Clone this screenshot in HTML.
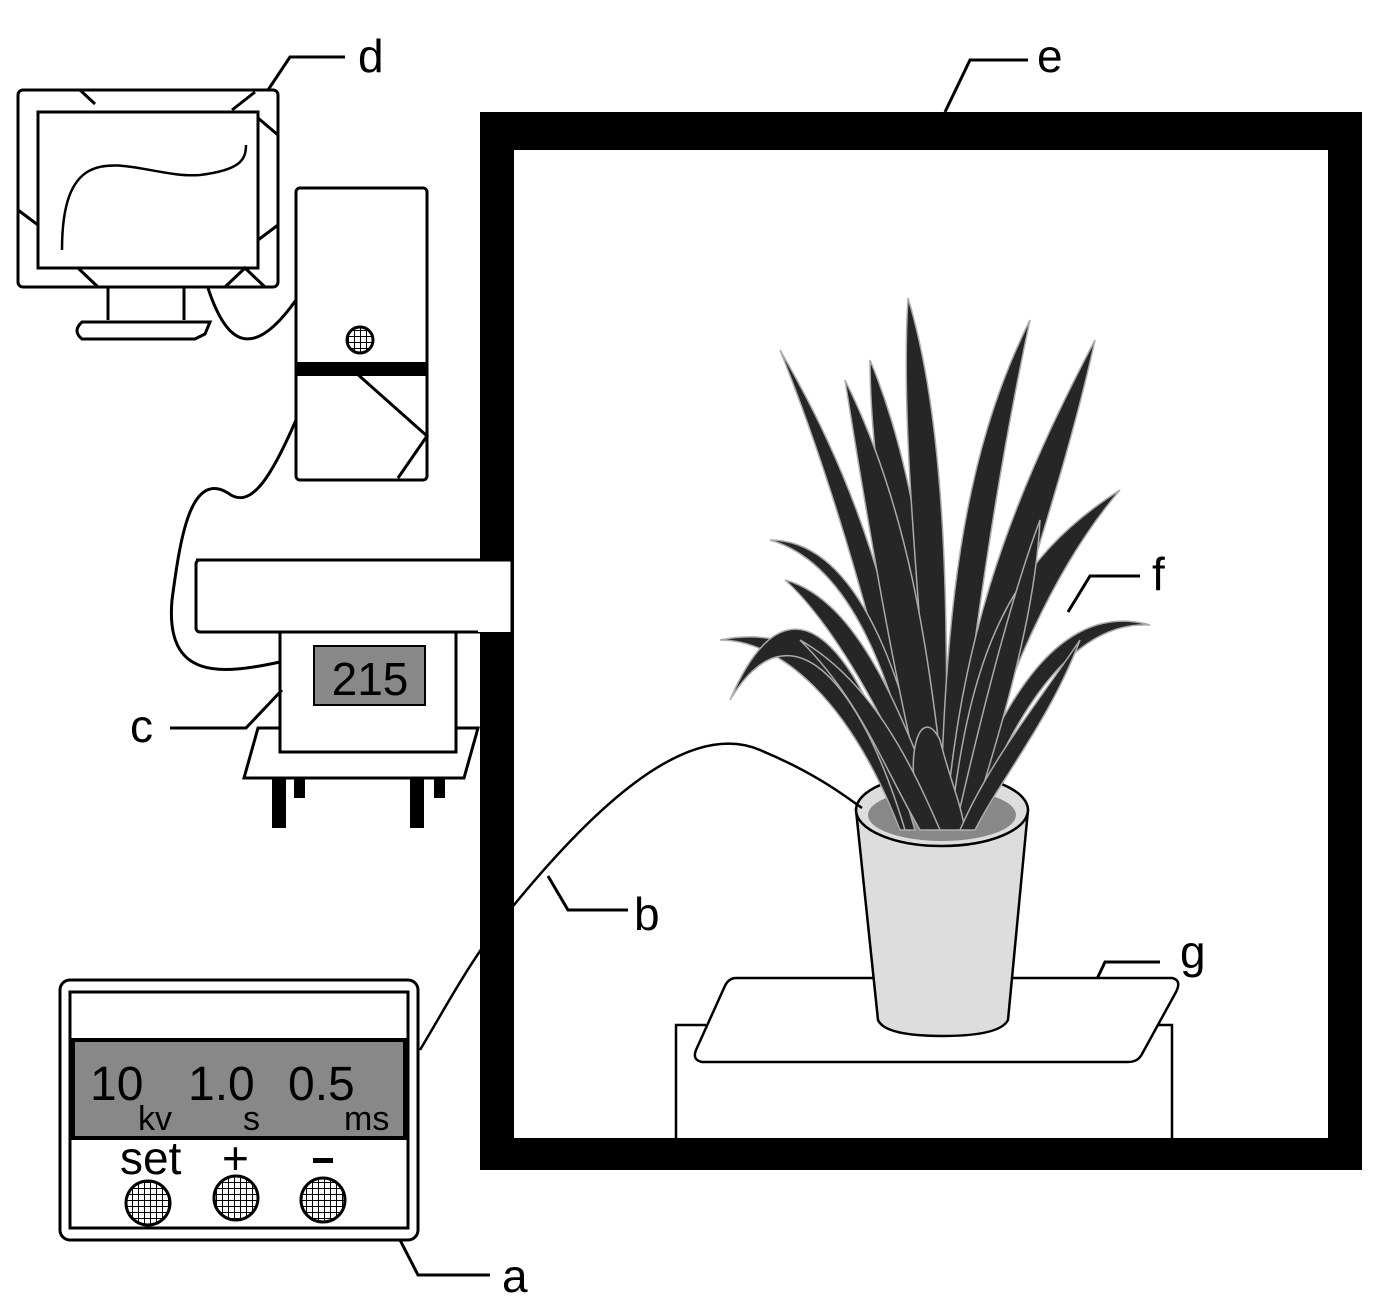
<!DOCTYPE html>
<html><head><style>body{margin:0;background:#fff}svg{display:block}text{font-family:"Liberation Sans",sans-serif}</style></head>
<body>
<svg width="1378" height="1299" viewBox="0 0 1378 1299" xmlns="http://www.w3.org/2000/svg">
<defs>
<pattern id="grid" width="6" height="6" patternUnits="userSpaceOnUse"><rect width="6" height="6" fill="#fff"/><path d="M0 0H6M0 0V6" stroke="#000" stroke-width="2"/></pattern>
</defs>
<g fill="none" stroke="#000" stroke-width="3">
<rect x="18" y="90" width="260" height="197" rx="5" fill="#fff"/>
<rect x="38" y="112" width="220" height="156"/>
<path d="M80 90 L95 104 M232 110 L255 92 M258 118 L278 135 M18 210 L38 225 M258 240 L278 225 M78 268 L98 287 M225 287 L245 268 L265 287"/>
<path d="M62 250 C62 120 140 180 200 175 C240 170 246 160 246 145" stroke-width="2.5"/>
<path d="M108 287 V320 M184 287 V320"/>
<path d="M82 322 H210 L205 334 L195 339 H82 Q72 331 82 322Z"/>
<rect x="296" y="188" width="131" height="292" rx="4" fill="#fff"/>
<path d="M355 372 L427 436 L398 478"/>
<path d="M208 288 C225 340 250 365 296 300"/>
<path d="M296 420 C270 480 250 510 228 493 C190 470 180 540 172 600 C165 680 220 675 280 662"/>
<rect x="196" y="560" width="316" height="72" rx="4" fill="#fff"/>
<path d="M258 728 H478 L464 778 H244 Z" fill="#fff"/>
<rect x="280" y="632" width="176" height="120" fill="#fff"/>
<path d="M170 728 H246 L282 690"/>
<path d="M268 90 L290 57 H345"/>
<path d="M945 112 L970 60 H1028"/>
<path d="M1068 612 L1090 576 H1140"/>
<path d="M1088 998 L1105 962 H1160"/>
<path d="M548 876 L568 910 H628"/>
<path d="M400 1240 L418 1275 H490"/>
</g>
<rect x="296" y="362" width="131" height="14" fill="#000"/>
<circle cx="360" cy="340" r="13" fill="url(#grid)" stroke="#000" stroke-width="3"/>
<rect x="314" y="646" width="111" height="59" fill="#888" stroke="#000" stroke-width="2"/>
<text x="370" y="695" font-size="46" text-anchor="middle" fill="#000">215</text>
<rect x="272" y="778" width="14" height="50" fill="#000"/><rect x="294" y="778" width="11" height="20" fill="#000"/>
<rect x="410" y="778" width="14" height="50" fill="#000"/><rect x="434" y="778" width="11" height="20" fill="#000"/>
<path fill="#000" fill-rule="evenodd" d="M480 112H1362V1170H480Z M514 150V1138H1328V150Z"/>
<rect x="478" y="560" width="34" height="72" fill="#fff"/>
<path d="M196 560 H512 V632" fill="none" stroke="#000" stroke-width="3"/>
<g fill="none" stroke="#000" stroke-width="2.5">
<path d="M676 1138 V1025 H706 M1172 1138 V1025 H1150"/>
<path d="M736 978 H1172 Q1182 980 1176 992 L1142 1054 Q1138 1062 1128 1062 H702 Q692 1060 696 1050 L724 988 Q728 978 736 978Z" fill="#fff"/>
</g>
<path d="M856 810 L878 1020 Q885 1036 942 1036 Q1000 1036 1008 1020 L1028 810 Z" fill="#ddd" stroke="#000" stroke-width="2.5"/>
<ellipse cx="942" cy="810" rx="86" ry="36" fill="#ddd" stroke="#000" stroke-width="2.5"/>
<ellipse cx="942" cy="815" rx="74" ry="26" fill="#888"/>
<g fill="#262626" stroke="#aaa" stroke-width="1.5">
<path d="M910 830 C880 700 820 620 720 640 C780 640 850 700 900 830Z"/>
<path d="M915 830 C860 640 790 560 730 700 C790 600 860 680 905 830Z"/>
<path d="M920 830 C870 600 820 450 780 350 C850 470 900 600 930 830Z"/>
<path d="M925 830 C890 650 840 560 770 540 C850 540 900 650 935 830Z"/>
<path d="M930 830 C900 600 870 480 870 360 C920 480 940 650 940 830Z"/>
<path d="M935 830 C920 600 900 430 908 298 C945 420 950 600 945 830Z"/>
<path d="M940 830 C945 620 960 460 1030 320 C1000 460 975 620 952 830Z"/>
<path d="M945 830 C960 650 1000 520 1095 340 C1060 500 1000 650 960 830Z"/>
<path d="M950 830 C970 650 1010 560 1120 490 C1060 560 1000 680 965 830Z"/>
<path d="M955 830 C1000 700 1060 600 1150 625 C1070 620 1010 720 970 830Z"/>
<path d="M930 830 C900 700 880 600 845 380 C905 500 930 640 948 830Z"/>
<path d="M930 830 C890 720 830 620 785 580 C860 600 905 720 945 830Z"/>
<path d="M955 830 C980 720 1010 600 1040 520 C1035 620 1000 730 970 830Z"/>
<path d="M925 830 C900 760 920 700 940 740 C950 780 960 800 965 830Z"/>
<path d="M920 830 C880 760 860 700 800 640 C870 680 910 760 940 830Z"/>
<path d="M960 830 C990 760 1040 700 1080 640 C1050 720 1000 780 975 830Z"/>
</g>
<path d="M420 1050 C450 1000 470 960 514 905 C600 800 690 720 760 750 C820 775 850 800 862 808" fill="none" stroke="#000" stroke-width="2.5"/>
<rect x="60" y="980" width="358" height="260" rx="10" fill="#fff" stroke="#000" stroke-width="3"/>
<rect x="70" y="992" width="338" height="236" fill="none" stroke="#000" stroke-width="3"/>
<rect x="73" y="1040" width="332" height="98" fill="#888" stroke="#000" stroke-width="4"/>
<text x="90" y="1100" font-size="48">10</text>
<text x="188" y="1100" font-size="48">1.0</text>
<text x="288" y="1100" font-size="48">0.5</text>
<text x="138" y="1130" font-size="34">kv</text>
<text x="243" y="1130" font-size="34">s</text>
<text x="344" y="1130" font-size="34">ms</text>
<text x="120" y="1174" font-size="46">set</text>
<text x="222" y="1174" font-size="46">+</text>
<rect x="313" y="1158" width="20" height="5" fill="#000"/>
<circle cx="148" cy="1203" r="22" fill="url(#grid)" stroke="#000" stroke-width="3"/>
<circle cx="236" cy="1198" r="22" fill="url(#grid)" stroke="#000" stroke-width="3"/>
<circle cx="323" cy="1200" r="22" fill="url(#grid)" stroke="#000" stroke-width="3"/>
<g font-size="46" fill="#000">
<text x="358" y="72">d</text>
<text x="1037" y="72">e</text>
<text x="1152" y="590">f</text>
<text x="1180" y="968">g</text>
<text x="634" y="930">b</text>
<text x="130" y="742">c</text>
<text x="502" y="1292">a</text>
</g>
</svg>
</body></html>
